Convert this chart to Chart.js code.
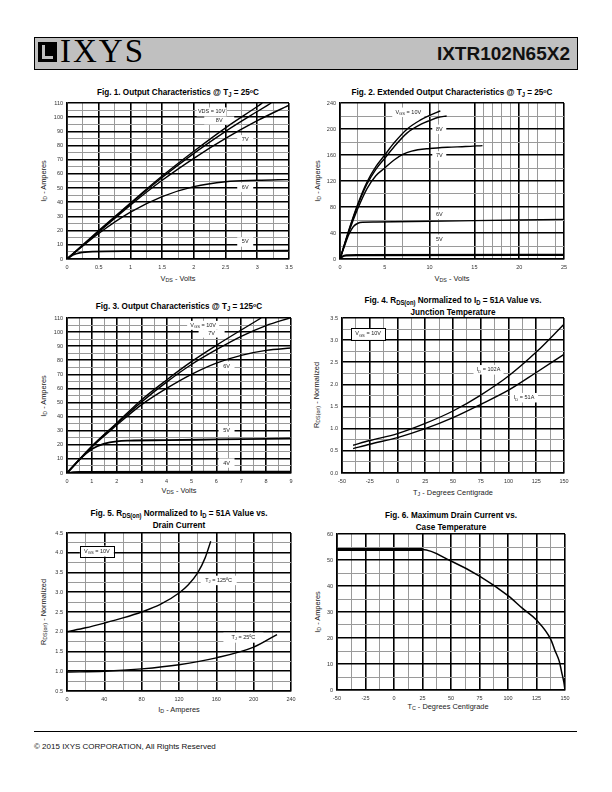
<!DOCTYPE html>
<html><head><meta charset="utf-8">
<script src="https://cdn.jsdelivr.net/npm/chart.js@4"></script>
<style>
html,body{margin:0;padding:0;background:#fff;}
#page{position:relative;width:612px;height:792px;overflow:hidden;font-family:"Liberation Sans",Arial,sans-serif;}
.abs{position:absolute;}
.ttl{position:absolute;transform:translate(-50%,0) scaleX(0.85);white-space:nowrap;font-family:"Liberation Sans",Arial,sans-serif;font-weight:bold;font-size:9.6px;line-height:11.5px;text-align:center;color:#000}
.axt{position:absolute;white-space:nowrap;font-family:"Liberation Sans",Arial,sans-serif;font-size:7.4px;line-height:8px;color:#222;transform:translate(-50%,-50%)}
.axt.v{transform:translate(-50%,-50%) rotate(-90deg)}
sub{font-size:72%;vertical-align:-0.25em;line-height:0}
sup{font-size:65%;vertical-align:0.35em;line-height:0}
canvas{position:absolute}
</style></head>
<body><div id="page">
<div class="abs" style="left:34px;top:37px;width:542px;height:31px;background:#c0c0c0;border:1px solid #000"></div>
<div class="abs" style="left:38px;top:42px;width:19px;height:20px;background:#000"></div>
<div class="abs" style="left:42px;top:45px;width:3px;height:14px;background:#c0c0c0"></div>
<div class="abs" style="left:42px;top:56px;width:11px;height:3px;background:#c0c0c0"></div>
<div class="abs" style="left:60px;top:35px;font-family:'Liberation Serif','Times New Roman',serif;font-size:33px;line-height:33px;letter-spacing:2px;color:#000">IXYS</div>
<div class="abs" style="right:42px;top:44px;font-family:'Liberation Sans',Arial,sans-serif;font-weight:bold;font-size:19px;line-height:19px;color:#111">IXTR102N65X2</div>

<div class="ttl" style="left:178px;top:86px">Fig. 1. Output Characteristics @ T<sub>J</sub> = 25<sup>o</sup>C</div>
<div class="ttl" style="left:452px;top:86px">Fig. 2. Extended Output Characteristics @ T<sub>J</sub> = 25<sup>o</sup>C</div>
<div class="ttl" style="left:179px;top:300px">Fig. 3. Output Characteristics @ T<sub>J</sub> = 125<sup>o</sup>C</div>
<div class="ttl" style="left:453px;top:294px">Fig. 4. R<sub>DS(on)</sub> Normalized to I<sub>D</sub> = 51A Value vs.<br>Junction Temperature</div>
<div class="ttl" style="left:179px;top:507px">Fig. 5. R<sub>DS(on)</sub> Normalized to I<sub>D</sub> = 51A Value vs.<br>Drain Current</div>
<div class="ttl" style="left:451px;top:509px">Fig. 6. Maximum Drain Current vs.<br>Case Temperature</div>

<div class="axt" style="left:178px;top:279px">V<sub>DS</sub> - Volts</div>
<div class="axt v" style="left:44px;top:181px">I<sub>D</sub> - Amperes</div>
<div class="axt" style="left:452px;top:279px">V<sub>DS</sub> - Volts</div>
<div class="axt v" style="left:318px;top:181px">I<sub>D</sub> - Amperes</div>
<div class="axt" style="left:179px;top:491px">V<sub>DS</sub> - Volts</div>
<div class="axt v" style="left:44px;top:396px">I<sub>D</sub> - Amperes</div>
<div class="axt" style="left:453px;top:493px">T<sub>J</sub> - Degrees Centigrade</div>
<div class="axt v" style="left:317px;top:395px">R<sub>DS(on)</sub> - Normalized</div>
<div class="axt" style="left:179px;top:710px">I<sub>D</sub> - Amperes</div>
<div class="axt v" style="left:44px;top:612px">R<sub>DS(on)</sub> - Normalized</div>
<div class="axt" style="left:448px;top:707px">T<sub>C</sub> - Degrees Centigrade</div>
<div class="axt v" style="left:318px;top:612px">I<sub>D</sub> - Amperes</div>

<canvas id="c1"></canvas><canvas id="c2"></canvas><canvas id="c3"></canvas>
<canvas id="c4"></canvas><canvas id="c5"></canvas><canvas id="c6"></canvas>

<div class="abs" style="left:34px;top:731px;width:543px;height:1px;background:#000"></div>
<div class="abs" style="left:34px;top:742px;font-size:8px;line-height:9px;color:#111">© 2015 IXYS CORPORATION, All Rights Reserved</div>
</div>
<script>
const FONT_N = '"Liberation Sans",Arial,sans-serif';

// ---- Fig. 1 : Output characteristics @ 25C  [VDS (V), ID (A)]
const f1_10V = [[0,0],[0.5,20],[1,39.5],[1.5,58.5],[2,76],[2.5,92.5],[3,107.5],[3.08,110]];
const f1_8V  = [[0,0],[0.5,19.5],[1,39],[1.5,57.5],[2,74.5],[2.5,90],[3,104],[3.22,110]];
const f1_7V  = [[0,0],[0.5,19],[1,38],[1.5,55.5],[2,71],[2.5,85],[3,97.5],[3.5,108.5]];
const f1_6V  = [[0,0],[0.5,18],[1,33],[1.5,44],[2,51],[2.5,54.5],[3,55.5],[3.5,56]];
const f1_5V  = [[0,0],[0.1,3],[0.2,4.4],[0.4,5.2],[1,5.5],[2,5.6],[3.5,5.8]];

// ---- Fig. 2 : Extended output characteristics @ 25C
const f2_10V = [[0,0],[1,45],[2,85],[3,118],[4,142],[5,160],[6,178],[7.5,200],[9,214],[10,221],[11.2,228]];
const f2_8V  = [[0,0],[1,44],[2,83],[3,115],[4,138],[5,155],[6,172],[7.5,194],[9,207],[10,213],[11,218],[11.9,220]];
const f2_7V  = [[0,0],[1,42],[2,78],[3,108],[4,128],[5,140],[6,152],[7,161],[8,166],[10,170],[12,172],[14,173],[15.9,174.5]];
const f2_6V  = [[0,0],[0.5,20],[1,38],[1.5,50],[2,55],[2.5,56.5],[4,57],[10,58],[15,59],[20,60],[25,61]];
const f2_5V  = [[0,0],[0.3,4],[0.7,5.5],[2,6],[25,6.5]];
const f2_xTicks = [0,2,5,7,10,11,15,16,17,18,19,20,21,22,24,25];

// ---- Fig. 3 : Output characteristics @ 125C
const f3_10V = [[0,0],[1,19],[2,35.5],[3,52],[4,66],[5,79],[6,90.6],[7,101.5],[7.8,110]];
const f3_7V  = [[0,0],[1,19],[2,35],[3,50.5],[4,64.5],[5,77],[6,87.5],[7,97],[8,104.6],[8.95,110]];
const f3_6V  = [[0,0],[1,18.5],[2,34],[3,48.5],[4,60],[5,70],[6,78],[7,83.5],[8,87],[9,88.7]];
const f3_5V  = [[0,0],[0.5,9.5],[1,17],[1.5,20.8],[2,22.5],[2.5,23],[4,23.3],[6,23.8],[9,24.5]];
const f3_4V  = [[0,0],[0.25,0.7],[0.5,0.9],[9,1.1]];

// ---- Fig. 4 : RDS(on) normalized vs junction temperature
const f4_tj    = [-40,-25,0,25,50,75,100,125,150];
const f4_102A  = [0.627,0.733,0.89,1.12,1.4,1.76,2.19,2.73,3.36];
const f4_51A   = [0.55,0.65,0.8,1.0,1.25,1.55,1.87,2.27,2.68];

// ---- Fig. 5 : RDS(on) normalized vs drain current
const f5_id125 = [0,20,40,60,80,100,120,130,140,148,154];
const f5_r125  = [2.0,2.1,2.22,2.35,2.5,2.69,2.98,3.19,3.49,3.87,4.29];
const f5_id25  = [0,40,80,120,160,200,225];
const f5_r25   = [0.98,1.0,1.06,1.165,1.34,1.61,1.93];

// ---- Fig. 6 : Max drain current vs case temperature
const f6_tc = [-50,25,50,75,100,112.5,125,137.5,141,145,147,149,150];
const f6_id = [54,54,49.6,43.8,36.3,31.5,26.9,19.5,15.4,11,7,3,0];

function zip(xs, ys){ return xs.map((x,i)=>[x,ys[i]]); }
function isMult(v, m){ const r = v/m; return Math.abs(r-Math.round(r))<1e-6; }

function axis(min,max,minor,major,fmt,pad){
  return {
    type:'linear', min:min, max:max,
    ticks:{stepSize:minor, autoSkip:false, maxRotation:0, minRotation:0, padding:pad, color:'#333',
      font:{family:FONT_N,size:5.5}, callback:(v)=> isMult(v,major)? fmt(v):''},
    grid:{drawTicks:false, color:c=> (c.tick && isMult(c.tick.value,major))?'#000':'#9a9a9a',
      lineWidth:c=> (c.tick && isMult(c.tick.value,major))?1.6:1},
    border:{display:true,color:'#000',width:1.6}
  };
}
function line(pts, w, extra){
  return Object.assign({data: pts.map(p=>({x:p[0],y:p[1]})), showLine:true, borderColor:'#000',
    borderWidth:w||1.4, pointRadius:0, cubicInterpolationMode:'monotone', fill:false}, extra||{});
}

function drawLabels(chart, items, bg){
  const ctx = chart.ctx, xs = chart.scales.x, ys = chart.scales.y;
  (items||[]).forEach(it=>{
    const fs = it.fs || 5.5;
    ctx.save();
    let w = 0;
    it.seg.forEach(s=>{ ctx.font = (s[1]? fs*0.75: fs)+'px '+FONT_N; w += ctx.measureText(s[0]).width; });
    const cx = xs.getPixelForValue(it.x), cy = ys.getPixelForValue(it.y);
    if(bg){
      const bw = it.bw || (w+8), bh = it.bh || (fs+4);
      ctx.fillStyle = '#fff';
      ctx.fillRect(cx-bw/2, cy-bh/2, bw, bh);
      if(it.box){ ctx.strokeStyle='#000'; ctx.lineWidth=1;
        ctx.strokeRect(Math.round(cx-bw/2)+0.5, Math.round(cy-bh/2)+0.5, Math.round(bw), Math.round(bh)); }
    } else {
      let x = cx - w/2;
      ctx.fillStyle = '#222'; ctx.textBaseline = 'middle'; ctx.textAlign = 'left';
      it.seg.forEach(s=>{ const f = s[1]? fs*0.75: fs; ctx.font = f+'px '+FONT_N;
        ctx.fillText(s[0], x, cy + (s[1]? fs*0.3:0)); x += ctx.measureText(s[0]).width; });
    }
    ctx.restore();
  });
}
const labelPlugin = {
  id:'lbl',
  beforeDatasetsDraw(chart, a, opts){ drawLabels(chart, opts.items, true); },
  afterDatasetsDraw(chart, a, opts){ drawLabels(chart, opts.items, false); }
};

function makeChart(id, rect, xa, ya, datasets, items){
  const PL=30, PT=8, PR=10, PB=14;
  const cv = document.getElementById(id);
  const w = rect[2]-rect[0]+PL+PR, h = rect[3]-rect[1]+PT+PB;
  cv.style.left = (rect[0]-PL)+'px'; cv.style.top = (rect[1]-PT)+'px';
  cv.width = w; cv.height = h; cv.style.width = w+'px'; cv.style.height = h+'px';
  xa.afterFit = s=>{ s.height = PB; };
  ya.afterFit = s=>{ s.width = PL; };
  return new Chart(cv, {type:'scatter', data:{datasets:datasets},
    options:{responsive:false, animation:false, devicePixelRatio:1, events:[],
      layout:{padding:{left:0,top:PT,right:PR,bottom:0}},
      plugins:{legend:{display:false}, tooltip:{enabled:false}, lbl:{items:items}},
      scales:{x:xa, y:ya}},
    plugins:[labelPlugin]});
}

const fInt = v=>String(v);
const f1d = v=>v.toFixed(1);

// Fig 1
makeChart('c1',[67,103,289,259], axis(0,3.5,0.25,0.5,fInt,5), axis(0,110,5,10,fInt,4),
  [line(f1_10V),line(f1_8V),line(f1_7V),line(f1_6V),line(f1_5V,1.8)],
  [{seg:[['VDS = 10V',0]], x:2.28, y:103.7, bw:30, bh:9},
   {seg:[['8V',0]], x:2.40, y:97.7, bw:30, bh:8},
   {seg:[['7V',0]], x:2.81, y:84, bw:16},
   {seg:[['6V',0]], x:2.81, y:50.5, bw:16},
   {seg:[['5V',0]], x:2.81, y:12, bw:16}]);

// Fig 2
const x2 = axis(0,25,1,5,fInt,5);
x2.afterBuildTicks = s=>{ s.ticks = f2_xTicks.map(v=>({value:v})); };
makeChart('c2',[340,103,564,259], x2, axis(0,240,20,40,fInt,4),
  [line(f2_10V),line(f2_8V),line(f2_7V),line(f2_6V),line(f2_5V,2.2)],
  [{seg:[['V',0],['GS',1],[' = 10V',0]], x:7.62, y:225.7, bw:32},
   {seg:[['8V',0]], x:11.08, y:199.5, bw:14},
   {seg:[['7V',0]], x:11.08, y:158.5, bw:14},
   {seg:[['6V',0]], x:11.08, y:68.8, bw:14},
   {seg:[['5V',0]], x:11.08, y:30.3, bw:14}]);

// Fig 3
makeChart('c3',[67,318,291,473], axis(0,9,0.5,1,fInt,5), axis(0,110,5,10,fInt,4),
  [line(f3_10V),line(f3_7V),line(f3_6V),line(f3_5V,1.8),line(f3_4V)],
  [{seg:[['V',0],['GS',1],[' = 10V',0]], x:5.47, y:104.8, bw:32, bh:9},
   {seg:[['7V',0]], x:5.81, y:98.9, bw:26, bh:8},
   {seg:[['6V',0]], x:6.41, y:75.7, bw:16},
   {seg:[['5V',0]], x:6.41, y:30, bw:16},
   {seg:[['4V',0]], x:6.41, y:7.1, bw:16}]);

// Fig 4
makeChart('c4',[342,318,564,473], axis(-50,150,12.5,25,fInt,5), axis(0,3.5,0.25,0.5,f1d,4),
  [line(zip(f4_tj,f4_102A)),line(zip(f4_tj,f4_51A))],
  [{seg:[['V',0],['GS',1],[' = 10V',0]], x:-26.5, y:3.14, bw:34, bh:12, box:true},
   {seg:[['I',0],['D',1],[' = 102A',0]], x:82, y:2.33, bw:30},
   {seg:[['I',0],['D',1],[' = 51A',0]], x:114, y:1.70, bw:28}]);

// Fig 5
makeChart('c5',[67,533,291,691], axis(0,240,20,40,fInt,5), axis(0.5,4.5,0.25,0.5,f1d,4),
  [line(zip(f5_id125,f5_r125)),line(zip(f5_id25,f5_r25))],
  [{seg:[['V',0],['GS',1],[' = 10V',0]], x:32, y:4.04, bw:34, bh:11, box:true},
   {seg:[['T',0],['J',1],[' = 125\u00BAC',0]], x:162.5, y:3.3, bw:36},
   {seg:[['T',0],['J',1],[' = 25\u00BAC',0]], x:189, y:1.85, bw:40, bh:10}]);

// Fig 6
makeChart('c6',[337,534,565,690], axis(-50,150,12.5,25,fInt,5), axis(0,60,5,10,fInt,4),
  [line(zip(f6_tc,f6_id),1.5,{segment:{borderWidth:c=> c.p1.parsed.x<=25 ? 3 : 1.5}})], []);
</script>
</body></html>
